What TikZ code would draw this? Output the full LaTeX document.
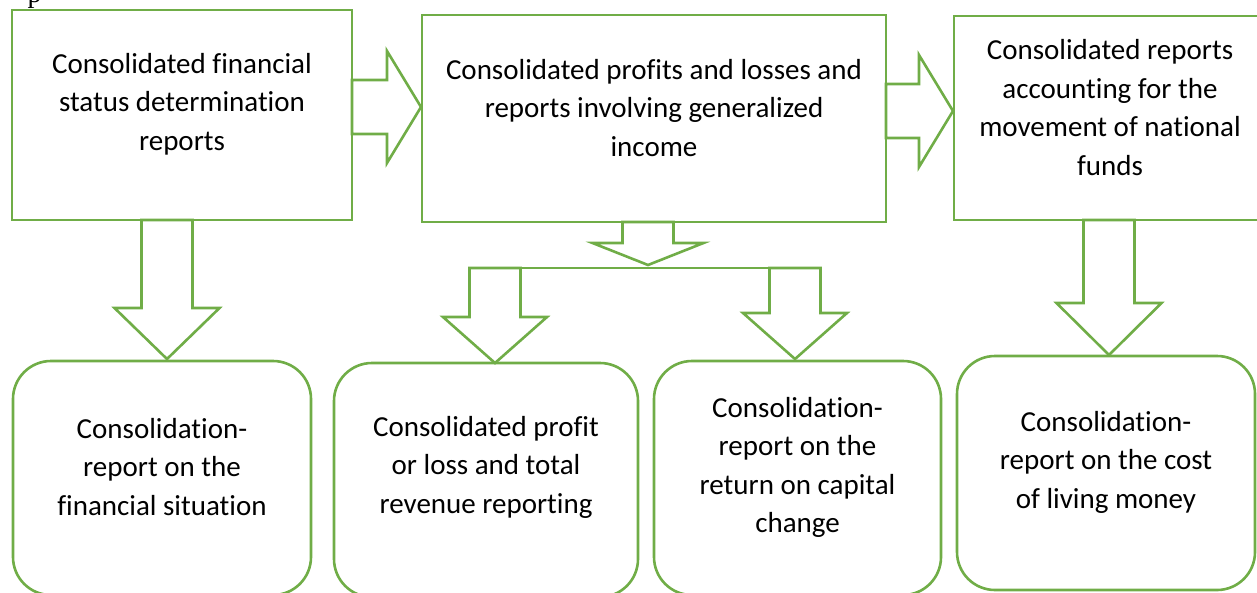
\documentclass[tikz,border=0pt]{standalone}
\usepackage{fontspec}
\setmainfont[Ligatures=NoCommon]{Carlito}
\newfontfamily\capfont{Liberation Serif}
\usetikzlibrary{calc,positioning}

\definecolor{leaf}{RGB}{112,173,71}

\begin{document}
\begin{tikzpicture}[x=1pt,y=-1pt,
    frame/.style={draw=leaf, line width=2.6pt, inner sep=0pt, outer sep=0pt, anchor=north west},
    plan/.style={frame, rounded corners=38pt},
    txt/.style={align=center, inner sep=0pt, font=\fontsize{29}{38.5}\selectfont},
    blockarrow/.style={draw=leaf, line width=2.6pt, fill=white}]
    \useasboundingbox (0,0) rectangle (1257,592);

    % tail of the line above
    \node[anchor=base west, inner sep=0pt, font=\capfont\fontsize{28}{30}\selectfont] (cap) at (27.5,2) {p};

    % upper row
    \node[frame, minimum width=340, minimum height=210] (fin) at (12,10) {};
    \node[frame, minimum width=464, minimum height=207] (pnl) at (422,15) {};
    \node[frame, minimum width=312, minimum height=204] (fund) at (954,16) {};
    \node[txt] (finT) at ($(fin.north)+(0,94)$) {Consolidated financial\\status determination\\reports};
    \node[txt] (pnlT) at ($(pnl.north)+(0,93)$) {Consolidated profits and losses and\\reports involving generalized\\income};
    \node[txt] (fundT) at ($(fund.north)+(0,91.5)$) {Consolidated reports\\accounting for the\\movement of national\\funds};

    % lower row
    \node[plan, minimum width=298, minimum height=234] (finrep) at (13,361) {};
    \node[plan, minimum width=304, minimum height=234] (plrep) at (334,363) {};
    \node[plan, minimum width=287, minimum height=234] (caprep) at (654,361) {};
    \node[plan, minimum width=298, minimum height=234] (costrep) at (957,356) {};
    \node[txt] (finrepT) at ($(finrep.north)+(0,106)$) {Consolidation-\\report on the\\financial situation};
    \node[txt] (plrepT) at ($(plrep.north)+(0,104)$) {Consolidated profit\\or loss and total\\revenue reporting};
    \node[txt] (caprepT) at ($(caprep.north)+(0,106.5)$) {Consolidation-\\report on the\\return on capital\\change};
    \node[txt] (costrepT) at ($(costrep.north)+(0,106)$) {Consolidation-\\report on the cost\\of living money};

    % arrow ends
    \coordinate (tipa) at ($(pnl.west)+(-1,-11.5)$);
    \coordinate (roota) at (fin.east |- tipa);
    \coordinate (tipb) at ($(fund.west)+(-1,-7)$);
    \coordinate (rootb) at (pnl.east |- tipb);
    \coordinate (tip1) at ($(finrep.north)+(5,-2)$);
    \coordinate (root1) at (fin.south -| tip1);
    \coordinate (tip4) at ($(costrep.north)+(3,-1)$);
    \coordinate (root4) at (fund.south -| tip4);
    \coordinate (tipm) at ($(pnl.south)+(-6,43)$);
    \coordinate (rootm) at (pnl.south -| tipm);
    \coordinate (spl1) at (469,268);
    \coordinate (spl2) at (821,268);
    \coordinate (tip2) at ($(plrep.north)+(9,0)$);
    \coordinate (root2) at (spl1 -| tip2);
    \coordinate (tip3) at ($(caprep.north)+(-2.5,-2)$);
    \coordinate (root3) at (spl2 -| tip3);

    % split under the middle box
    \draw[leaf, line width=1.6pt] (spl1) -- (spl2);

    % block arrows to the right
    \foreach \r/\t in {roota/tipa, rootb/tipb}
    \draw[blockarrow] ($(\r)+(0,-27)$) -- ($(\t)+(-34,-27)$) -- ($(\t)+(-34,-56)$) -- (\t)
        -- ($(\t)+(-34,56)$) -- ($(\t)+(-34,27)$) -- ($(\r)+(0,27)$) -- cycle;

    % block arrows pointing down
    \foreach \r/\t/\hw/\hl in {root1/tip1/52.5/51, root4/tip4/52.5/52, rootm/tipm/55.5/22,
        root2/tip2/52/46, root3/tip3/52/46}
    \draw[blockarrow] ($(\r)+(-25.5,0)$) -- ($(\t)+(-25.5,-\hl)$) -- ($(\t)+(-\hw,-\hl)$) -- (\t)
        -- ($(\t)+(\hw,-\hl)$) -- ($(\t)+(25.5,-\hl)$) -- ($(\r)+(25.5,0)$) -- cycle;
\end{tikzpicture}
\end{document}
